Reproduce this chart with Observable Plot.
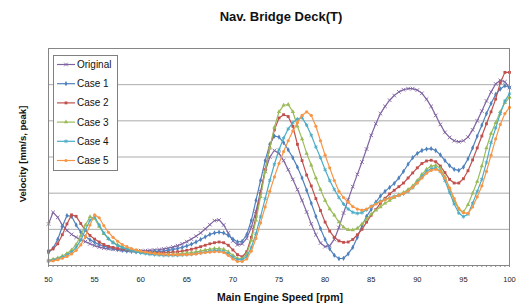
<!DOCTYPE html>
<html><head><meta charset="utf-8">
<script src="https://cdn.jsdelivr.net/npm/d3@7"></script>
<script src="https://cdn.jsdelivr.net/npm/@observablehq/plot@0.6"></script>
<style>body{margin:0;background:#fff} #chart{width:516px;height:304px}</style>
</head><body><div id="chart"></div>
<script>
// rpm sampling grid: 50 .. 100 in 0.5 steps
const rpm = d3.range(0, 101).map(i => 50 + i / 2);

const original = [1.15,1.47,1.33,1.12,0.97,0.86,0.78,0.72,
  0.66,0.6,0.55,0.51,0.48,0.46,0.45,0.44,0.43,0.42,0.41,0.41,
  0.41,0.41,0.42,0.43,0.44,0.46,0.48,0.51,0.55,0.6,
  0.66,0.73,0.81,0.9,1.01,1.13,1.24,1.26,1.12,0.9,
  0.68,0.57,0.6,0.75,1.06,1.5,2.05,2.6,3.0,3.18,
  3.1,2.9,2.65,2.38,2.1,1.8,1.48,1.15,0.85,0.62,
  0.52,0.55,0.72,1.05,1.45,1.82,2.18,2.52,2.86,3.22,
  3.6,3.92,4.2,4.4,4.57,4.7,4.8,4.86,4.89,4.89,
  4.85,4.76,4.6,4.4,4.15,3.9,3.68,3.54,3.45,3.42,
  3.45,3.55,3.75,4.0,4.27,4.55,4.8,5.02,5.12,5.08,
  4.92];
const case1 = [0.35,0.48,0.72,1.08,1.38,1.36,1.12,0.92,0.8,0.71,
  0.64,0.58,0.54,0.5,0.47,0.44,0.42,0.4,0.39,0.38,
  0.37,0.37,0.37,0.38,0.39,0.4,0.42,0.44,0.47,0.5,
  0.54,0.59,0.65,0.72,0.79,0.86,0.9,0.92,0.9,0.83,
  0.73,0.65,0.67,0.85,1.25,1.8,2.35,2.9,3.35,3.58,
  3.55,3.4,3.2,2.98,2.72,2.42,2.08,1.72,1.36,1.02,
  0.72,0.46,0.28,0.19,0.2,0.32,0.5,0.78,1.1,1.36,
  1.55,1.75,1.92,2.05,2.16,2.27,2.42,2.6,2.8,2.98,
  3.1,3.18,3.22,3.23,3.18,3.06,2.9,2.76,2.66,2.63,
  2.72,2.95,3.25,3.58,3.88,4.2,4.48,4.73,4.88,4.97,
  4.92];
const case2 = [0.4,0.46,0.6,0.85,1.15,1.4,1.36,1.16,0.97,0.83,
  0.73,0.65,0.58,0.53,0.5,0.47,0.45,0.43,0.41,0.4,
  0.38,0.37,0.36,0.36,0.35,0.35,0.36,0.37,0.38,0.4,
  0.42,0.45,0.48,0.52,0.56,0.6,0.63,0.65,0.63,0.56,
  0.43,0.3,0.24,0.38,0.78,1.35,2.0,2.65,3.25,3.75,
  4.08,4.17,4.12,3.85,3.35,2.9,2.5,2.2,1.85,1.52,
  1.2,0.95,0.78,0.68,0.64,0.65,0.72,0.85,1.0,1.2,
  1.39,1.55,1.72,1.86,1.98,2.08,2.18,2.28,2.42,2.56,
  2.7,2.82,2.89,2.91,2.87,2.75,2.57,2.38,2.28,2.28,
  2.4,2.62,2.92,3.25,3.58,3.92,4.25,4.6,5.05,5.34,
  5.34];
const case3 = [0.15,0.17,0.21,0.26,0.33,0.43,0.58,0.82,1.12,1.35,
  1.3,1.08,0.88,0.74,0.64,0.57,0.51,0.47,0.43,0.4,
  0.38,0.36,0.34,0.33,0.32,0.31,0.31,0.31,0.32,0.33,
  0.34,0.36,0.38,0.4,0.43,0.45,0.47,0.47,0.45,0.38,
  0.28,0.2,0.19,0.32,0.7,1.25,1.9,2.6,3.25,3.82,
  4.25,4.43,4.45,4.25,3.85,3.5,3.1,2.77,2.42,2.1,
  1.8,1.56,1.39,1.2,1.06,0.99,0.98,1.03,1.15,1.28,
  1.42,1.53,1.62,1.72,1.8,1.88,1.95,2.02,2.1,2.2,
  2.35,2.52,2.66,2.75,2.77,2.68,2.45,2.12,1.8,1.55,
  1.48,1.68,2.0,2.32,2.75,3.25,3.65,3.95,4.25,4.5,
  4.65];
const case4 = [0.13,0.15,0.18,0.23,0.29,0.37,0.5,0.7,0.98,1.25,
  1.35,1.12,0.9,0.74,0.63,0.55,0.5,0.45,0.41,0.38,
  0.35,0.33,0.31,0.3,0.29,0.28,0.28,0.28,0.28,0.29,
  0.3,0.31,0.33,0.35,0.37,0.39,0.41,0.41,0.39,0.32,
  0.23,0.16,0.16,0.25,0.5,0.88,1.35,1.85,2.35,2.8,
  3.2,3.52,3.78,3.95,4.05,4.09,3.88,3.6,3.28,2.98,
  2.65,2.35,2.1,1.88,1.7,1.56,1.47,1.44,1.46,1.54,
  1.64,1.72,1.78,1.83,1.87,1.91,1.94,1.98,2.05,2.15,
  2.3,2.46,2.6,2.68,2.7,2.6,2.35,2.02,1.7,1.45,
  1.35,1.42,1.72,2.05,2.38,2.85,3.4,3.8,4.2,4.55,
  4.75];
const case5 = [0.11,0.13,0.16,0.2,0.25,0.32,0.42,0.57,0.8,1.12,
  1.4,1.32,1.1,0.92,0.78,0.67,0.58,0.52,0.47,0.43,
  0.4,0.37,0.35,0.33,0.32,0.31,0.3,0.3,0.3,0.3,
  0.3,0.31,0.32,0.34,0.36,0.37,0.38,0.38,0.36,0.28,
  0.18,0.11,0.11,0.18,0.4,0.75,1.18,1.62,2.05,2.45,
  2.82,3.15,3.45,3.72,3.95,4.15,4.25,4.15,3.85,3.45,
  3.05,2.7,2.35,2.05,1.88,1.75,1.63,1.56,1.53,1.56,
  1.63,1.7,1.76,1.82,1.86,1.9,1.94,1.99,2.06,2.16,
  2.28,2.42,2.55,2.63,2.66,2.6,2.42,2.15,1.85,1.58,
  1.46,1.44,1.62,1.9,2.2,2.6,3.05,3.5,3.9,4.2,
  4.37];

const seriesNames = ["Original", "Case 1", "Case 2", "Case 3", "Case 4", "Case 5"];
const seriesValues = [original, case1, case2, case3, case4, case5];
const seriesColors = ["#8064A2", "#4F81BD", "#C0504D", "#9BBB59", "#4BACC6", "#F79646"];
const seriesSymbols = ["times", "diamond", "square", "triangle", "asterisk", "circle"];
const xTicks = [50, 55, 60, 65, 70, 75, 80, 85, 90, 95, 100];
const xMinorTicks = rpm;
const gridValues = [1, 2, 3, 4, 5];

const titleText = "Nav. Bridge Deck(T)";
const xLabel = "Main Engine Speed [rpm]";
const yLabel = "Velocity [mm/s, peak]";

const FONT = "'Liberation Sans', Arial, sans-serif";
const hollow = new Set(["times", "asterisk"]);
const R = 1.6;

const marks = [
  Plot.gridY(gridValues, {stroke: "#ababab", strokeOpacity: 1, strokeWidth: 1}),
  Plot.axisX({ticks: xMinorTicks, tickSize: 2, tickFormat: () => "", stroke: "#868686", label: null}),
  Plot.axisX({ticks: xTicks, tickSize: 0, tickPadding: 11, fontSize: 7.5, fill: "#222", label: null})
];
seriesNames.forEach((name, s) => {
  const rows = seriesValues[s].map((v, i) => ({x: rpm[i], y: v}));
  marks.push(Plot.line(rows, {x: "x", y: "y", stroke: seriesColors[s], strokeWidth: 1.2}));
  const sym = seriesSymbols[s];
  marks.push(Plot.dot(rows, hollow.has(sym)
    ? {x: "x", y: "y", symbol: sym, r: R + 0.2, stroke: seriesColors[s], fill: "none", strokeWidth: 0.9}
    : {x: "x", y: "y", symbol: sym, r: R, fill: seriesColors[s], stroke: "none"}));
});
marks.push(Plot.frame({stroke: "#868686"}));

const svg = Plot.plot({
  width: 516, height: 304,
  marginLeft: 48, marginRight: 7, marginTop: 48, marginBottom: 39,
  style: {fontFamily: FONT, background: "#fff"},
  x: {domain: [50, 100]},
  y: {domain: [0, 6], axis: null},
  marks
});
document.getElementById("chart").appendChild(svg);

const root = d3.select(svg);
root.append("text").attr("x", 281).attr("y", 21).attr("text-anchor", "middle")
  .attr("font-family", FONT).attr("font-weight", "bold").attr("font-size", 13).attr("fill", "#111").text(titleText);
root.append("text").attr("x", 280).attr("y", 301).attr("text-anchor", "middle")
  .attr("font-family", FONT).attr("font-weight", "bold").attr("font-size", 10.5).attr("fill", "#111").text(xLabel);
root.append("text").attr("transform", "translate(26,154) rotate(-90)").attr("text-anchor", "middle")
  .attr("font-family", FONT).attr("font-weight", "bold").attr("font-size", 9.5).attr("fill", "#111").text(yLabel);

// legend
const lg = root.append("g");
lg.append("rect").attr("x", 53.5).attr("y", 55.5).attr("width", 64).attr("height", 115)
  .attr("fill", "#fff").attr("stroke", "#7f7f7f");
const symMap = {times: d3.symbolTimes, diamond: d3.symbolDiamond, square: d3.symbolSquare,
  triangle: d3.symbolTriangle, asterisk: d3.symbolAsterisk, circle: d3.symbolCircle};
seriesNames.forEach((name, s) => {
  const cy = 64.5 + s * 19.2;
  const g = lg.append("g");
  g.append("line").attr("x1", 57).attr("x2", 75).attr("y1", cy).attr("y2", cy)
    .attr("stroke", seriesColors[s]).attr("stroke-width", 1.2);
  const sym = seriesSymbols[s];
  const rr = hollow.has(sym) ? R + 0.2 : R;
  g.append("path").attr("transform", `translate(66,${cy})`)
    .attr("d", d3.symbol(symMap[sym], Math.PI * rr * rr)())
    .attr("fill", hollow.has(sym) ? "none" : seriesColors[s])
    .attr("stroke", hollow.has(sym) ? seriesColors[s] : "none")
    .attr("stroke-width", 0.9);
  g.append("text").attr("x", 77).attr("y", cy).attr("dy", "0.35em").attr("text-anchor", "start")
    .attr("font-family", FONT).attr("font-size", 10).attr("fill", "#111").text(name);
});
</script>
</body></html>
